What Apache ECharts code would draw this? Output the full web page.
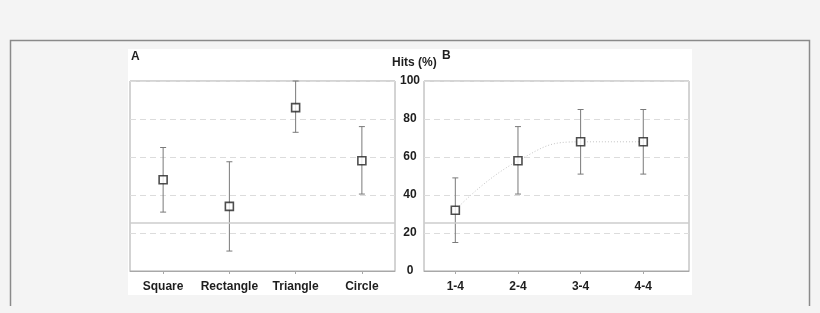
<!DOCTYPE html>
<html>
<head>
<meta charset="utf-8">
<script src="https://cdn.jsdelivr.net/npm/echarts@6/dist/echarts.min.js"></script>
<style>
html,body{margin:0;padding:0;background:#f4f4f4;}
#c{width:820px;height:313px;}
</style>
</head>
<body>
<div id="c"></div>
<script>
var catsA = ['Square', 'Rectangle', 'Triangle', 'Circle'];
var meanA = [48, 34, 86, 58];
var lowA = [31, 10.5, 73, 40.5];
var highA = [65, 57.5, 100, 76];
var catsB = ['1-4', '2-4', '3-4', '4-4'];
var posB = [1, 2, 3, 4];
var meanB = [32, 58, 68, 68];
var lowB = [15, 40.5, 51, 51];
var highB = [49, 76, 85, 85];
var chanceLevel = 25.6;
var yTicks = [0, 20, 40, 60, 80, 100];

var FONT = '"Liberation Sans", Arial, sans-serif';
var chart = echarts.init(document.getElementById('c'), null, {renderer: 'canvas'});

function errRender(params, api) {
  var x = api.value(0);
  var p0 = api.coord([x, api.value(1)]);
  var p1 = api.coord([x, api.value(2)]);
  var cw = 3;
  var st = {stroke: '#7a7a7a', lineWidth: 1};
  return {
    type: 'group',
    children: [
      {type: 'line', shape: {x1: p0[0], y1: p0[1], x2: p1[0], y2: p1[1]}, style: st},
      {type: 'line', shape: {x1: p0[0] - cw, y1: p0[1], x2: p0[0] + cw, y2: p0[1]}, style: st},
      {type: 'line', shape: {x1: p1[0] - cw, y1: p1[1], x2: p1[0] + cw, y2: p1[1]}, style: st}
    ]
  };
}

var labelStyle = {color: '#1e1e1e', fontFamily: FONT, fontWeight: 'bold', fontSize: 12};
var markerStyle = {color: '#fff', borderColor: '#222', borderWidth: 1.6};
var chanceMark = {
  silent: true, symbol: 'none', label: {show: false},
  lineStyle: {color: '#cccccc', type: 'solid', width: 1.5},
  data: [{yAxis: chanceLevel}]
};

var option = {
  animation: false,
  backgroundColor: '#f4f4f4',
  graphic: [
    {type: 'polyline', z: -10, shape: {points: [[10.5, 306], [10.5, 40.5], [809.5, 40.5], [809.5, 306]]},
     style: {stroke: '#8a8a8a', lineWidth: 1.5, fill: null}},
    {type: 'rect', z: -9, shape: {x: 128, y: 49, width: 564, height: 246}, style: {fill: '#fff'}},
    {type: 'text', left: 131, top: 51, style: {text: 'A', font: 'bold 12px ' + FONT, fill: '#1e1e1e'}},
    {type: 'text', left: 442, top: 50, style: {text: 'B', font: 'bold 12px ' + FONT, fill: '#1e1e1e'}},
    {type: 'text', left: 392, top: 57, style: {text: 'Hits (%)', font: 'bold 12px ' + FONT, fill: '#1e1e1e'}}
  ],
  grid: [
    {left: 130, top: 81, width: 265, height: 190, show: true, backgroundColor: '#fff', borderColor: '#a8a8a8', borderWidth: 1},
    {left: 424, top: 81, width: 265, height: 190, show: true, backgroundColor: '#fff', borderColor: '#a8a8a8', borderWidth: 1}
  ],
  xAxis: [
    {type: 'category', gridIndex: 0, data: catsA, boundaryGap: true,
     axisLine: {show: true, lineStyle: {color: '#a8a8a8'}},
     axisTick: {show: true, alignWithLabel: true, interval: 0, length: 3, lineStyle: {color: '#a8a8a8'}},
     axisLabel: Object.assign({margin: 10, interval: 0}, labelStyle),
     splitLine: {show: false}},
    {type: 'value', gridIndex: 1, min: 0.5, max: 4.73,
     axisLine: {show: true, lineStyle: {color: '#a8a8a8'}},
     axisTick: {show: true, length: 3, customValues: posB, lineStyle: {color: '#a8a8a8'}},
     axisLabel: Object.assign({margin: 10, customValues: posB,
       formatter: function (v) { return catsB[Math.round(v) - 1] || ''; }}, labelStyle),
     splitLine: {show: false}}
  ],
  yAxis: [
    {type: 'value', gridIndex: 0, min: 0, max: 100, interval: 20,
     axisLine: {show: false}, axisTick: {show: false}, axisLabel: {show: false},
     splitLine: {show: true, lineStyle: {color: '#dcdcdc', type: [6, 4]}}},
    {type: 'value', gridIndex: 1, min: 0, max: 100, interval: 20,
     axisLine: {show: false}, axisTick: {show: false},
     axisLabel: Object.assign({margin: 14, align: 'center'}, labelStyle),
     splitLine: {show: true, lineStyle: {color: '#dcdcdc', type: [6, 4]}}}
  ],
  series: [
    {type: 'custom', xAxisIndex: 0, yAxisIndex: 0, renderItem: errRender, z: 3,
     data: catsA.map(function (c, i) { return [i, lowA[i], highA[i]]; }),
     markLine: chanceMark},
    {type: 'scatter', xAxisIndex: 0, yAxisIndex: 0, symbol: 'rect', symbolSize: 8, z: 5,
     itemStyle: markerStyle, data: meanA.map(function (v, i) { return [i, v]; })},
    {type: 'line', xAxisIndex: 1, yAxisIndex: 1, smooth: 0.5, showSymbol: false, z: 2,
     lineStyle: {color: '#c4c4c4', width: 1, type: [1, 2]},
     data: meanB.map(function (v, i) { return [posB[i], v]; })},
    {type: 'custom', xAxisIndex: 1, yAxisIndex: 1, renderItem: errRender, z: 3,
     data: posB.map(function (p, i) { return [p, lowB[i], highB[i]]; }),
     markLine: chanceMark},
    {type: 'scatter', xAxisIndex: 1, yAxisIndex: 1, symbol: 'rect', symbolSize: 8, z: 5,
     itemStyle: markerStyle, data: meanB.map(function (v, i) { return [posB[i], v]; })}
  ]
};
chart.setOption(option);
</script>
</body>
</html>
